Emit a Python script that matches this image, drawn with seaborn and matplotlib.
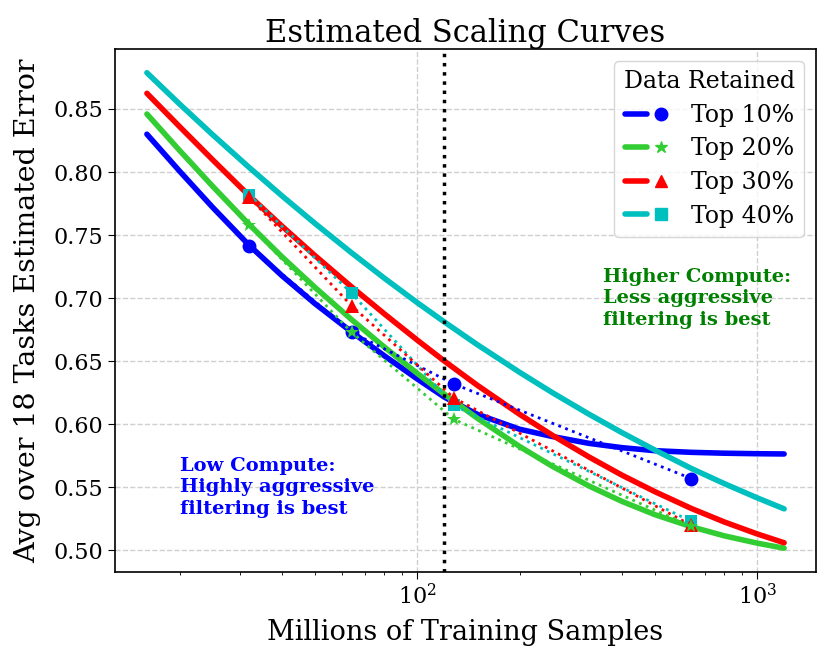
import matplotlib
matplotlib.use("Agg")
import matplotlib.pyplot as plt
from matplotlib.lines import Line2D
from matplotlib.legend_handler import HandlerTuple
import seaborn as sns

# fitted scaling curves
curve_x = [16, 20, 25, 32, 40, 50, 64, 80, 100, 120, 150, 200, 250, 320, 400, 500, 640, 800, 1000, 1200]
curve_top10 = [0.8300, 0.8005, 0.7719, 0.7419, 0.7177, 0.6956, 0.6733, 0.6543, 0.6359, 0.6216, 0.6080, 0.5961,
               0.5903, 0.5849, 0.5815, 0.5791, 0.5778, 0.5771, 0.5767, 0.5765]
curve_top20 = [0.8460, 0.8169, 0.7886, 0.7584, 0.7327, 0.7085, 0.6831, 0.6612, 0.6403, 0.6239, 0.6049, 0.5824,
               0.5666, 0.5511, 0.5389, 0.5284, 0.5188, 0.5116, 0.5058, 0.5018]
curve_top30 = [0.8624, 0.8358, 0.8096, 0.7812, 0.7570, 0.7337, 0.7090, 0.6875, 0.6667, 0.6502, 0.6310, 0.6079,
               0.5912, 0.5741, 0.5597, 0.5466, 0.5333, 0.5226, 0.5131, 0.5061]
curve_top40 = [0.8787, 0.8537, 0.8295, 0.8036, 0.7810, 0.7592, 0.7360, 0.7158, 0.6964, 0.6812, 0.6632, 0.6412,
               0.6250, 0.6080, 0.5934, 0.5796, 0.5650, 0.5530, 0.5417, 0.5330]

# measured points
samples = [32, 64, 128, 640]
err_top10 = [0.741, 0.673, 0.632, 0.557]
err_top20 = [0.758, 0.673, 0.604, 0.519]
err_top30 = [0.780, 0.694, 0.621, 0.520]
err_top40 = [0.782, 0.704, 0.615, 0.523]

labels = ["Top 10%", "Top 20%", "Top 30%", "Top 40%"]
colors = ["blue", "limegreen", "red", "c"]
markers = ["o", "*", "^", "s"]
marker_sizes = [10, 10, 10, 9]

curves = [curve_top10, curve_top20, curve_top30, curve_top40]
points = [err_top10, err_top20, err_top30, err_top40]

sns.set_style("white")
plt.rcParams["font.family"] = "DejaVu Serif"
plt.rcParams["text.color"] = "black"
plt.rcParams["axes.labelcolor"] = "black"
plt.rcParams["xtick.color"] = "black"
plt.rcParams["ytick.color"] = "black"

fig, ax = plt.subplots(figsize=(8.3, 6.62), dpi=100)
fig.subplots_adjust(left=0.1386, right=0.9831, bottom=0.136, top=0.926)

# fitted curves first
for curve, color in zip(curves, colors):
    sns.lineplot(x=curve_x, y=curve, color=color, linewidth=4, ax=ax)

# measured points joined by dotted lines
for i in [3, 0, 2, 1]:
    sns.lineplot(x=samples, y=points[i], color=colors[i], linestyle=":", linewidth=2,
                 marker=markers[i], markersize=marker_sizes[i], markeredgecolor=colors[i],
                 markeredgewidth=0, ax=ax)

ax.axvline(120, color="black", linestyle=":", linewidth=2.5)

ax.set_xscale("log")
ax.grid(True, which="major", linestyle="--", color="#d0d0d0", linewidth=1)
ax.set_axisbelow(True)
for s in ax.spines.values():
    s.set_color("black")
    s.set_linewidth(1.2)
ax.tick_params(axis="both", which="major", labelsize=16, length=5, direction="out",
               bottom=True, left=True)
ax.tick_params(axis="x", which="minor", length=2.5, bottom=True)

ax.set_title("Estimated Scaling Curves", fontsize=22, pad=4)
ax.set_xlabel("Millions of Training Samples", fontsize=19.5, labelpad=7)
ax.set_ylabel("Avg over 18 Tasks Estimated Error", fontsize=20.5, labelpad=9)

ax.text(20, 0.55, "Low Compute:\nHighly aggressive\nfiltering is best", color="blue",
        fontsize=14, fontweight="bold", ha="left", va="center", linespacing=1.25)
ax.text(352, 0.700, "Higher Compute:\nLess aggressive\nfiltering is best", color="green",
        fontsize=14, fontweight="bold", ha="left", va="center", linespacing=1.25)

handles = []
for color, m, ms in zip(colors, markers, marker_sizes):
    ln = Line2D([], [], color=color, linewidth=4)
    mk = Line2D([], [], color=color, marker=m, linestyle="none", markersize=ms - 1)
    handles.append((ln, mk))
ax.legend(handles, labels, title="Data Retained", loc="upper right", fontsize=17,
          title_fontsize=17, handler_map={tuple: HandlerTuple(ndivide=None, pad=0.1)},
          handlelength=2.0, labelspacing=0.45)

fig.savefig("out.png", dpi=100)
